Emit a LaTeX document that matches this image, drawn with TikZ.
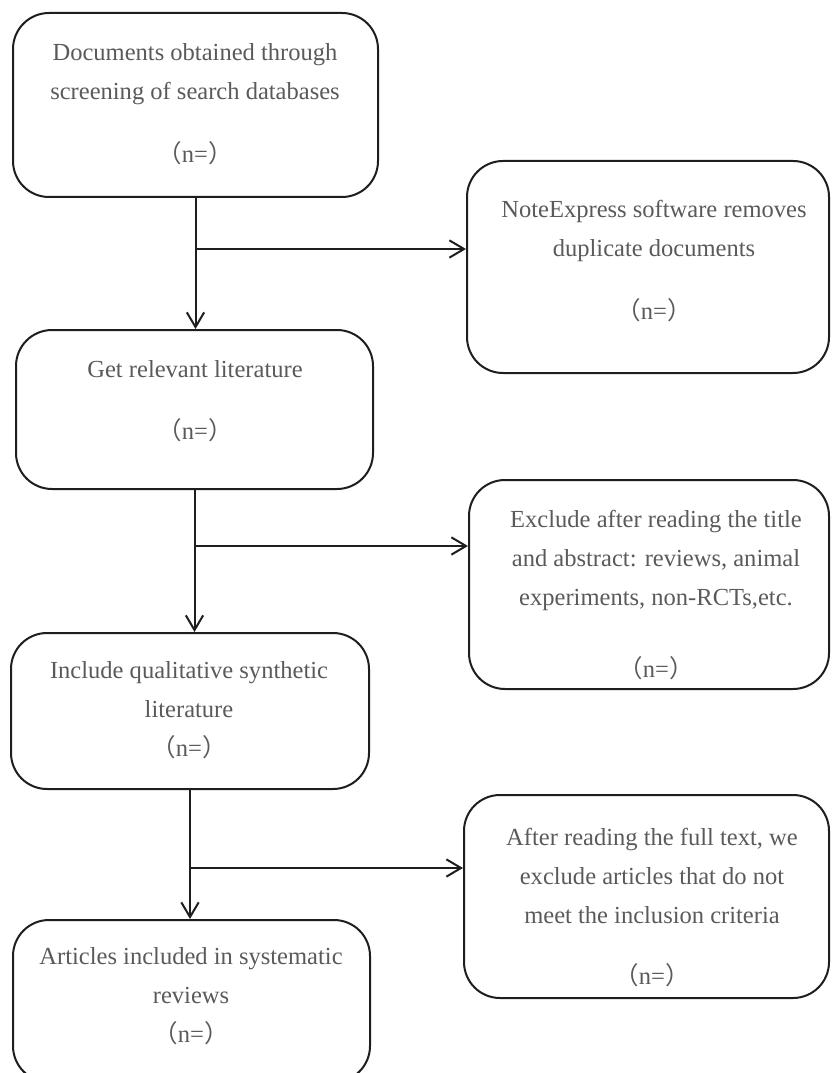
\documentclass[tikz,border=0pt]{standalone}
\usepackage{fontspec}
\setmainfont{Liberation Serif}
\newfontfamily\cjkfont{Noto Sans CJK SC}
\usetikzlibrary{arrows.meta}
\definecolor{linec}{HTML}{1E1E1E}
\definecolor{textc}{HTML}{5A5A5A}
\newcommand{\nneq}{{\cjkfont （}n={\cjkfont ）}}
\begin{document}
\begin{tikzpicture}[x=0.75pt,y=-0.75pt,
  box/.style={draw=linec, line width=1.5pt, rounded corners=27pt, inner sep=0pt, anchor=center},
  txt/.style={text=textc, font=\fontsize{18.4}{29.25}\selectfont, align=center, inner sep=0pt},
  conn/.style={draw=linec, line width=1.5pt},
  arr/.style={conn, -{Straight Barb[length=11pt,width=13pt]}}]
\useasboundingbox (0,0) rectangle (831,1073);
% boxes
\node[box, minimum width=273.75pt, minimum height=138pt] (L1) at (195.5,105) {};
\node[box, minimum width=271.5pt, minimum height=159pt] (R1) at (648,267) {};
\node[box, minimum width=267.75pt, minimum height=119.25pt] (L2) at (194.5,409.5) {};
\node[box, minimum width=270pt, minimum height=156.75pt] (R2) at (649,584.5) {};
\node[box, minimum width=268.5pt, minimum height=117pt] (L3) at (190,711) {};
\node[box, minimum width=273.75pt, minimum height=152.25pt] (R3) at (646.5,896.5) {};
\node[box, minimum width=267.75pt, minimum height=121.5pt] (L4) at (191.5,1001) {};
% texts
\node[txt] (t1) at (195,104.5) {Documents obtained through\\screening of search databases\\[18pt]\nneq};
\node[txt] (t2) at (654,261) {NoteExpress software removes\\duplicate documents\\[18pt]\nneq};
\node[txt] (t3) at (195,401) {Get relevant literature\\[17pt]\nneq};
\node[txt] (t4) at (656,595) {Exclude after reading the title\\and abstract: reviews, animal\\experiments, non-RCTs,etc.\\[25pt]\nneq};
\node[txt] (t5) at (189,710) {Include qualitative synthetic\\literature\\\nneq};
\node[txt] (t6) at (652,907.5) {After reading the full text, we\\exclude articles that do not\\meet the inclusion criteria\\[17pt]\nneq};
\node[txt] (t7) at (191,996.5) {Articles included in systematic\\reviews\\\nneq};
% branch levels
\coordinate (y1) at (0,249);
\coordinate (y2) at (0,546);
\coordinate (y3) at (0,868);
% connectors
\draw[arr] (L1.south) -- (L1.south |- L2.north);
\draw[arr] (L1.south |- y1) -- (R1.west |- y1);
\draw[arr] (L2.south) -- (L2.south |- L3.north);
\draw[arr] (L2.south |- y2) -- (R2.west |- y2);
\draw[arr] (L3.south) -- (L3.south |- L4.north);
\draw[arr] (L3.south |- y3) -- (R3.west |- y3);
\end{tikzpicture}
\end{document}
